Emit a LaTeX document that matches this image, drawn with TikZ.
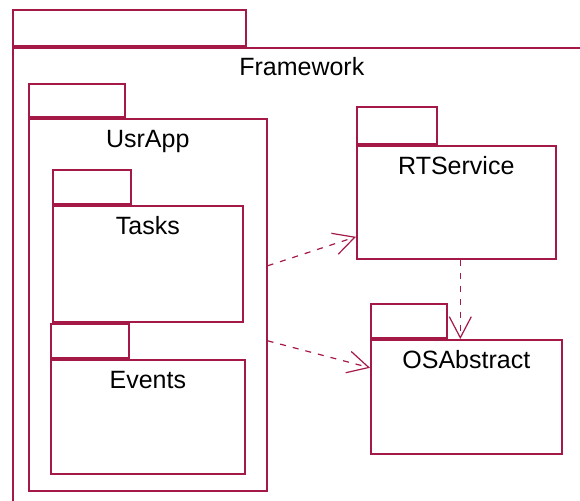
\documentclass[tikz,border=0pt]{standalone}
\usepackage{fontspec}
\setmainfont{Liberation Sans}
\usetikzlibrary{arrows.meta}
\definecolor{pkg}{RGB}{165,25,70}
\begin{document}
\begin{tikzpicture}[x=1pt,y=-1pt]
	\tikzset{b/.style={draw=pkg,line width=1.6pt,rectangle,inner sep=0pt,anchor=north west},
	t/.style={anchor=base,inner sep=0pt,font=\fontsize{25}{28}\selectfont},
	d/.style={draw=pkg,line width=1.2pt,dash pattern=on 6pt off 7pt,-{Straight Barb[length=21pt,width=22pt]}}}
	\clip(0,0)rectangle(580,500);
	\fill[white](0,0)rectangle(580,500);
	\path(12,47)node[b,minimum width=578pt,minimum height=470pt](F){}
	(28,118)node[b,minimum width=238pt,minimum height=372pt](U){}
	(52,205)node[b,minimum width=190pt,minimum height=116pt](T){}
	(50,359)node[b,minimum width=194pt,minimum height=114pt](E){}
	(356,145)node[b,minimum width=199pt,minimum height=113pt](R){}
	(370,339)node[b,minimum width=191pt,minimum height=114pt](O){};
	% tabs
	\foreach \x/\w/\h in {F/233/36,U/96/33,T/78/34,E/78/34,R/80/37,O/76/34}
	\path(\x.north west)node[b,anchor=south west,minimum width=\w pt,minimum height=\h pt](\x t){};
	\foreach \x/\s in {F/Framework,U/UsrApp,T/Tasks,E/Events,R/RTService,O/OSAbstract}
	\path(\x.north)++(0,29)node[t](\x l){\s};
	\draw[d]([yshift=39pt]U.east)--([yshift=-34.5pt]R.west);
	\draw[d]([yshift=-36pt]U.east)--([yshift=29pt]O.west);
	\draw[d]([xshift=4pt]R.south)--([xshift=-6pt]O.north);
\end{tikzpicture}
\end{document}
